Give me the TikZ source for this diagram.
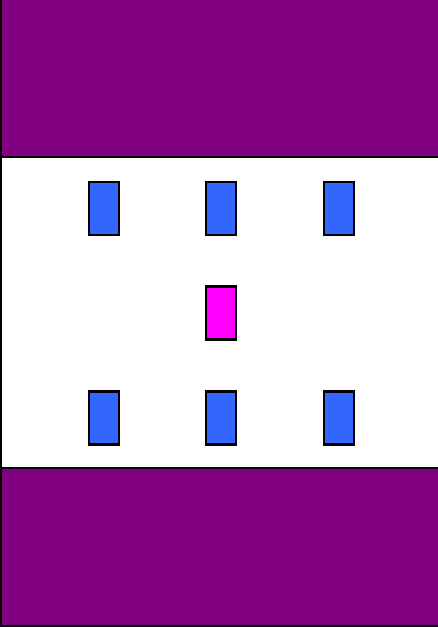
\documentclass[tikz,border=0pt]{standalone}
\definecolor{bandpurple}{HTML}{800080}
\definecolor{boxblue}{HTML}{3366FF}
\definecolor{boxmag}{HTML}{FF00FF}
\tikzset{
  band/.style={fill=bandpurple, draw=black, line width=2pt},
  bluebox/.style={rectangle, fill=boxblue, draw=black, line width=2.2pt, minimum width=30pt, minimum height=53pt, inner sep=0pt},
  magbox/.style={rectangle, fill=boxmag, draw=black, line width=2.2pt, minimum width=30pt, minimum height=53pt, inner sep=0pt}
}
\begin{document}
\begin{tikzpicture}[x=1pt,y=-1pt]
\useasboundingbox (0,0) rectangle (438,627);
\fill[white] (0,0) rectangle (438,627);
\draw[band] (1,-2) rectangle (440,156.5);
\draw[band] (1,467.5) rectangle (440,626);
\draw[black, line width=2pt] (1,156.5) -- (1,467.5);
\node[bluebox] (b1) at (104,208.5) {};
\node[bluebox] (b2) at (221,208.5) {};
\node[bluebox] (b3) at (339,208.5) {};
\node[magbox] (m) at (221,313) {};
\node[bluebox] (b4) at (104,418) {};
\node[bluebox] (b5) at (221,418) {};
\node[bluebox] (b6) at (339,418) {};
\end{tikzpicture}
\end{document}
